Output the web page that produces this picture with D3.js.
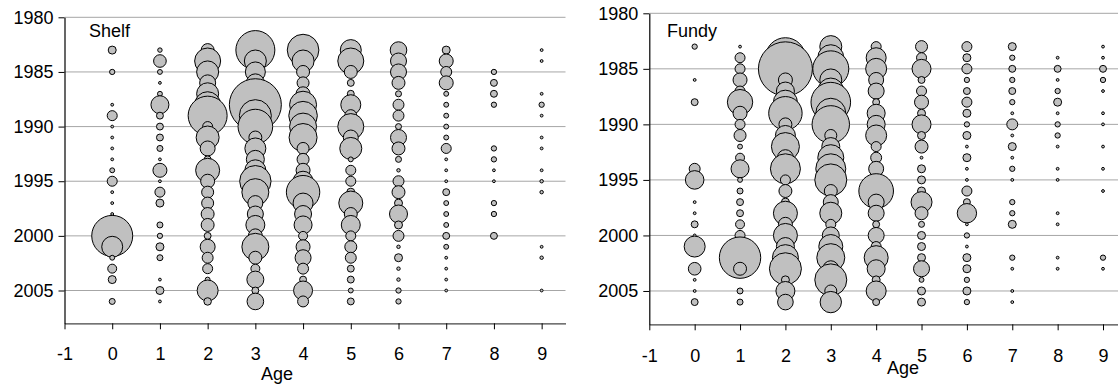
<!DOCTYPE html>
<html>
<head>
<meta charset="utf-8">
<script src="https://cdn.jsdelivr.net/npm/d3@7"></script>
<style>
  html, body { margin: 0; padding: 0; background: #fff; }
  svg { display: block; }
  text { font-family: "Liberation Sans", Arial, sans-serif; fill: #000; }
</style>
</head>
<body>
<svg id="chart" width="1118" height="385"></svg>
<script>
// ---------------- DATA ----------------
const years = [1983,1984,1985,1986,1987,1988,1989,1990,1991,1992,1993,1994,
               1995,1996,1997,1998,1999,2000,2001,2002,2003,2004,2005,2006];
const ages = [0,1,2,3,4,5,6,7,8,9];
const xTicks = [-1,0,1,2,3,4,5,6,7,8,9];
const yTicks = [1980,1985,1990,1995,2000,2005];
const panelNames = ["Shelf", "Fundy"];
const xTitle = "Age";

// abundance index by age (values per year, 1983..2006; 0 = none)
const shelfAge0 = [16,0,7,0,0,2,25,2,2,2,2,6,25,2,2,2,0,420,110,6,20,16,0,9];
const shelfAge1 = [5,40,6,2,6,81,12,12,12,9,2,49,2,25,16,0,9,7,16,9,0,2,16,2];
const shelfAge2 = [42,169,121,64,121,169,380,25,132,56,12,144,49,36,36,42,42,12,56,30,25,6,110,14];
const shelfAge3 = [380,121,100,81,100,676,256,300,42,110,81,110,246,182,56,64,90,49,182,42,20,72,12,69];
const shelfAge4 = [250,121,42,36,49,182,204,182,196,36,36,49,100,279,100,72,81,20,49,64,30,12,90,30];
const shelfAge5 = [110,169,42,12,12,100,36,169,56,121,6,25,25,16,144,42,90,25,36,30,12,12,6,12];
const shelfAge6 = [69,64,64,42,9,30,30,9,64,42,9,3,30,42,16,81,16,30,3,16,3,3,7,7];
const shelfAge7 = [16,49,30,49,6,6,6,6,6,25,2,2,2,12,6,6,6,12,6,2,2,2,2,0];
const shelfAge8 = [0,0,7,12,12,7,0,0,0,7,7,2,2,0,7,7,0,12,0,0,0,0,0,0];
const shelfAge9 = [2,2,0,0,2,7,2,0,2,2,0,2,3,3,0,0,0,0,2,3,0,0,2,0];

const fundyAge0 = [7,0,0,2,0,12,0,0,0,0,0,30,86,0,2,2,12,2,110,0,40,2,2,12];
const fundyAge1 = [2,25,25,49,25,161,49,25,36,6,20,81,6,9,12,12,20,25,0,428,42,0,9,9];
const fundyAge2 = [0,400,729,49,81,144,279,42,100,196,64,225,25,42,16,144,49,144,81,169,256,16,90,61];
const fundyAge3 = [121,169,324,121,169,392,225,350,36,81,169,225,256,42,56,121,25,72,144,196,64,256,36,114];
const fundyAge4 = [25,100,110,56,64,12,81,81,110,25,30,56,25,300,64,64,12,64,25,144,81,16,100,12];
const fundyAge5 = [36,25,90,12,25,49,16,90,16,42,2,16,16,16,110,42,9,16,16,16,64,6,16,16];
const fundyAge6 = [25,16,25,7,12,25,16,7,16,2,16,2,2,25,12,94,2,7,2,16,16,7,16,7];
const fundyAge7 = [16,7,12,7,12,7,2,30,2,16,2,7,2,0,7,7,16,0,0,7,2,0,2,2];
const fundyAge8 = [0,2,12,2,7,16,2,7,7,2,0,2,2,0,0,2,2,0,0,2,2,0,0,0];
const fundyAge9 = [2,2,12,7,2,0,2,2,0,2,0,2,0,2,0,0,0,0,0,7,2,0,0,0];

const shelfSeries = [shelfAge0,shelfAge1,shelfAge2,shelfAge3,shelfAge4,shelfAge5,shelfAge6,shelfAge7,shelfAge8,shelfAge9];
const fundySeries = [fundyAge0,fundyAge1,fundyAge2,fundyAge3,fundyAge4,fundyAge5,fundyAge6,fundyAge7,fundyAge8,fundyAge9];

// ---------------- LAYOUT ----------------
const panels = [
  { name: panelNames[0], series: shelfSeries,
    x0: 64.5, x1: 565.5, y0: 17.3, y1: 323.3,
    titleX: 89, titleY: 37, ageX: 277, ageY: 380, tickPad: 18 },
  { name: panelNames[1], series: fundySeries,
    x0: 649.3, x1: 1125.7, y0: 13.3, y1: 324.3,
    titleX: 667, titleY: 37, ageX: 903, ageY: 374, tickPad: 19 }
];

const svg = d3.select("#chart");
const rScale = d3.scaleSqrt().domain([0, 729]).range([0, 27]);
const fmt = d => String(d);

panels.forEach(p => {
  const x = d3.scaleLinear().domain([-1, 9.5]).range([p.x0, p.x1]);
  const y = d3.scaleLinear().domain([1980, 2008]).range([p.y0, p.y1]);
  const g = svg.append("g");

  // gridlines
  g.append("g").selectAll("line").data(yTicks).join("line")
    .attr("x1", x(-1)).attr("x2", x(9.5))
    .attr("y1", d => y(d)).attr("y2", d => y(d))
    .attr("stroke", "#a6a6a6").attr("stroke-width", 1);

  // x axis
  const xa = g.append("g").attr("transform", `translate(0,${y(2008)})`)
    .call(d3.axisBottom(x).tickValues(xTicks).tickFormat(fmt)
      .tickSize(6).tickSizeOuter(0).tickPadding(p.tickPad));
  xa.select(".domain").attr("stroke", "#444").attr("stroke-width", 1.2);
  xa.selectAll(".tick line").attr("stroke", "#000");
  xa.selectAll("text").attr("font-size", "18px")
    .attr("font-family", '"Liberation Sans", Arial, sans-serif');

  // y axis
  const ya = g.append("g").attr("transform", `translate(${x(-1)},0)`)
    .call(d3.axisLeft(y).tickValues(yTicks).tickFormat(fmt)
      .tickSize(6).tickSizeOuter(0).tickPadding(5));
  ya.select(".domain").attr("stroke", "#000").attr("stroke-width", 1.2);
  ya.selectAll(".tick line").attr("stroke", "#000");
  ya.selectAll("text").attr("font-size", "18px")
    .attr("font-family", '"Liberation Sans", Arial, sans-serif');

  // bubbles
  const pts = [];
  p.series.forEach((vals, ai) => {
    vals.forEach((v, yi) => {
      if (v > 0) pts.push({ age: ages[ai], year: years[yi], v: v });
    });
  });
  g.append("g").selectAll("circle").data(pts).join("circle")
    .attr("cx", d => x(d.age))
    .attr("cy", d => y(d.year))
    .attr("r", d => rScale(d.v))
    .attr("fill", "#c0c0c0")
    .attr("stroke", "#000")
    .attr("stroke-width", 1);

  // panel title
  g.append("text").attr("x", p.titleX).attr("y", p.titleY)
    .attr("font-size", "18px").text(p.name);

  // axis title
  g.append("text").attr("x", p.ageX).attr("y", p.ageY)
    .attr("text-anchor", "middle").attr("font-size", "18px").text(xTitle);
});
</script>
</body>
</html>
